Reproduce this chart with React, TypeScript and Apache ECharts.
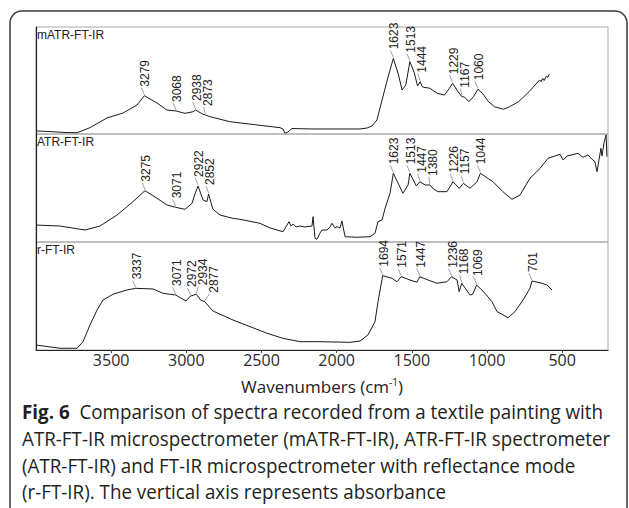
import React, { useEffect, useRef } from 'react';
import * as echarts from 'echarts';

// ---- data ----
const xTickLabels = [3500, 3000, 2500, 2000, 1500, 1000, 500];
const panelNames = ['mATR-FT-IR', 'ATR-FT-IR', 'r-FT-IR'];
const xAxisName = 'Wavenumbers (cm{sup|-1})';
const captionLines = [
  '{b|Fig. 6}  Comparison of spectra recorded from a textile painting with',
  'ATR-FT-IR microspectrometer (mATR-FT-IR), ATR-FT-IR spectrometer',
  '(ATR-FT-IR) and FT-IR microspectrometer with reflectance mode',
  '(r-FT-IR). The vertical axis represents absorbance',
];

// [wavenumber, absorbance (a.u.)]
const mATRSpectrum = [
  [3993, 0.028], [3907, 0.023], [3807, 0.014], [3727, 0.012], [3641, 0.059], [3528, 0.15], [3421, 0.196],
  [3328, 0.271], [3279, 0.358], [3195, 0.29], [3129, 0.224], [3068, 0.215], [3009, 0.193], [2956, 0.208],
  [2938, 0.224], [2889, 0.184], [2873, 0.178], [2843, 0.162], [2710, 0.115], [2490, 0.078], [2377, 0.059],
  [2357, 0.047], [2344, 0.007], [2324, 0.019], [2297, 0.051], [2157, 0.047], [1845, 0.047], [1798, 0.056],
  [1765, 0.075], [1732, 0.131], [1698, 0.318], [1658, 0.533], [1623, 0.707], [1590, 0.56], [1565, 0.411],
  [1540, 0.458], [1513, 0.676], [1485, 0.579], [1462, 0.45], [1444, 0.489], [1430, 0.44], [1380, 0.427],
  [1330, 0.38], [1283, 0.364], [1250, 0.427], [1229, 0.474], [1200, 0.411], [1167, 0.349], [1150, 0.346],
  [1120, 0.302], [1090, 0.349], [1060, 0.418], [1030, 0.38], [990, 0.302], [950, 0.255], [890, 0.231],
  [850, 0.255], [790, 0.302], [720, 0.395], [680, 0.458], [650, 0.505], [640, 0.49], [630, 0.52],
  [620, 0.5], [605, 0.54], [595, 0.53], [585, 0.56],
];
const atrSpectrum = [
  [4000, 0.157], [3840, 0.148], [3674, 0.111], [3574, 0.148], [3461, 0.25], [3355, 0.373], [3275, 0.475],
  [3195, 0.405], [3129, 0.343], [3071, 0.321], [3009, 0.303], [2962, 0.358], [2945, 0.435], [2922, 0.519],
  [2889, 0.389], [2863, 0.373], [2852, 0.444], [2823, 0.303], [2776, 0.25], [2690, 0.219], [2643, 0.21],
  [2510, 0.173], [2443, 0.13], [2357, 0.095], [2317, 0.188], [2304, 0.148], [2290, 0.167], [2270, 0.139],
  [2244, 0.148], [2211, 0.139], [2164, 0.148], [2157, 0.234], [2144, 0.034], [2131, 0.025], [2111, 0.083],
  [2098, 0.111], [2064, 0.111], [2044, 0.139], [2031, 0.173], [2011, 0.13], [1998, 0.142], [1978, 0.13],
  [1965, 0.194], [1944, 0.049], [1865, 0.044], [1778, 0.049], [1745, 0.081], [1725, 0.188], [1698, 0.204],
  [1678, 0.312], [1645, 0.451], [1623, 0.636], [1559, 0.451], [1525, 0.528], [1513, 0.636], [1470, 0.519],
  [1447, 0.558], [1410, 0.528], [1380, 0.528], [1355, 0.49], [1326, 0.466], [1266, 0.466], [1226, 0.558],
  [1185, 0.497], [1157, 0.543], [1113, 0.497], [1066, 0.558], [1044, 0.636], [960, 0.558], [894, 0.466],
  [834, 0.395], [780, 0.435], [714, 0.59], [647, 0.682], [594, 0.775], [514, 0.812], [494, 0.759],
  [468, 0.796], [395, 0.821], [361, 0.784], [328, 0.806], [301, 0.766], [282, 0.744], [268, 0.651],
  [255, 0.759], [242, 0.868], [235, 0.796], [222, 0.914], [208, 0.991], [202, 0.79],
];
const rSpectrum = [
  [4000, 0.046], [3840, 0.016], [3727, 0.016], [3687, 0.077], [3641, 0.231], [3594, 0.37], [3554, 0.463],
  [3488, 0.516], [3395, 0.556], [3337, 0.571], [3222, 0.565], [3155, 0.525], [3071, 0.509], [3002, 0.454],
  [2972, 0.5], [2934, 0.516], [2905, 0.463], [2877, 0.447], [2823, 0.361], [2690, 0.278], [2576, 0.216],
  [2463, 0.155], [2357, 0.108], [2244, 0.077], [2111, 0.077], [1911, 0.071], [1845, 0.083], [1792, 0.139],
  [1745, 0.262], [1725, 0.447], [1705, 0.602], [1694, 0.688], [1632, 0.664], [1599, 0.632], [1571, 0.679],
  [1512, 0.648], [1466, 0.627], [1447, 0.679], [1392, 0.648], [1333, 0.618], [1266, 0.632], [1236, 0.679],
  [1199, 0.648], [1185, 0.54], [1168, 0.618], [1113, 0.509], [1095, 0.516], [1069, 0.602], [1013, 0.525],
  [967, 0.447], [933, 0.355], [900, 0.331], [860, 0.299], [814, 0.355], [760, 0.463], [714, 0.571],
  [701, 0.639], [634, 0.618], [601, 0.602], [568, 0.556],
];

// labelled peaks [wavenumber, absorbance]
const mATRPeaks = [
  [3279, 0.358], [3068, 0.215], [2938, 0.224], [2873, 0.178], [1623, 0.707], [1513, 0.676], [1444, 0.489],
  [1229, 0.474], [1167, 0.349], [1060, 0.418],
];
const atrPeaks = [
  [3275, 0.475], [3071, 0.321], [2922, 0.519], [2852, 0.444], [1623, 0.636], [1513, 0.636], [1447, 0.558],
  [1380, 0.528], [1226, 0.558], [1157, 0.543], [1044, 0.636],
];
const rPeaks = [
  [3337, 0.571], [3071, 0.509], [2972, 0.5], [2934, 0.516], [2877, 0.447], [1694, 0.688], [1571, 0.679],
  [1447, 0.679], [1236, 0.679], [1168, 0.618], [1069, 0.602], [701, 0.639],
];

const spectra = [mATRSpectrum, atrSpectrum, rSpectrum];
const peaks = [mATRPeaks, atrPeaks, rPeaks];

const X_MIN = 195;
const X_MAX = 4000;
const GRID_TOPS = [27, 134, 242];
const GRID_HEIGHTS = [107, 108, 108];

function makePeakRenderer() {
  let lastX = -Infinity;
  return (params: any, api: any) => {
    if (params.dataIndexInside === 0) lastX = -Infinity;
    const wn = api.value(0);
    const a = api.value(1);
    const [px, py] = api.coord([wn, a]);
    const lx = Math.max(px, lastX + 11);
    lastX = lx;
    return {
      type: 'group',
      children: [
        {
          type: 'line',
          shape: { x1: px, y1: py - 1, x2: lx - 3, y2: py - 8 },
          style: { stroke: '#8a8a8a', lineWidth: 0.8 },
        },
        {
          type: 'text',
          x: lx + 1,
          y: py - 9,
          rotation: Math.PI / 2,
          style: {
            text: String(wn),
            fill: '#222',
            font: '12px "Liberation Sans", Arial, sans-serif',
            textAlign: 'left',
            textVerticalAlign: 'middle',
          },
        },
      ],
    };
  };
}

export default function App() {
  const ref = useRef<HTMLDivElement>(null);
  useEffect(() => {
    document.body.style.margin = '0';
    const chart = echarts.init(ref.current!, null, { renderer: 'svg' });
    const grids = GRID_TOPS.map((top, i) => ({
      left: 36,
      right: 21,
      top,
      height: GRID_HEIGHTS[i],
      show: true,
      borderColor: '#a8a8a8',
      borderWidth: 1,
      backgroundColor: 'transparent',
    }));
    const xAxes = GRID_TOPS.map((_, i) => {
      const bottom = i === 2;
      return {
        type: 'value',
        gridIndex: i,
        inverse: true,
        min: X_MIN,
        max: X_MAX,
        splitLine: { show: false },
        axisLine: { show: bottom, lineStyle: { color: '#222', width: 1.2 } },
        axisTick: bottom
          ? { show: true, customValues: xTickLabels, length: 3, lineStyle: { color: '#444' } }
          : { show: false },
        axisLabel: bottom
          ? {
              show: true,
              customValues: xTickLabels,
              formatter: (v: number) => String(v),
              color: '#2a2a2a',
              fontSize: 16,
              fontFamily: '"Open Sans", sans-serif',
              margin: 2,
            }
          : { show: false },
        name: bottom ? xAxisName : '',
        nameLocation: 'middle',
        nameGap: 27,
        nameTextStyle: {
          color: '#222',
          fontSize: 17,
          fontFamily: '"Open Sans", sans-serif',
          rich: {
            sup: { fontSize: 10, fontFamily: '"Open Sans", sans-serif', color: '#222', padding: [0, 0, 8, 0] },
          },
        },
      };
    });
    const yAxes = GRID_TOPS.map((_, i) => ({
      type: 'value',
      gridIndex: i,
      min: 0,
      max: 1,
      axisLine: { show: true, lineStyle: { color: '#222', width: 1.2 } },
      axisTick: { show: false },
      axisLabel: { show: false },
      splitLine: { show: false },
    }));
    const lineSeries = spectra.map((d, i) => ({
      type: 'line',
      xAxisIndex: i,
      yAxisIndex: i,
      data: d,
      showSymbol: false,
      symbol: 'none',
      lineStyle: { color: '#1a1a1a', width: 1 },
      silent: true,
    }));
    const peakSeries = peaks.map((d, i) => ({
      type: 'custom',
      xAxisIndex: i,
      yAxisIndex: i,
      data: d,
      renderItem: makePeakRenderer(),
      clip: false,
      silent: true,
    }));
    const panelLabels = panelNames.map((n, i) => ({
      type: 'text',
      x: 37,
      y: GRID_TOPS[i] + 2,
      style: {
        text: n,
        fill: '#222',
        font: '12px "Liberation Sans", Arial, sans-serif',
        textVerticalAlign: 'top',
      },
    }));
    const captionTops = [401, 428, 455, 481];
    const caption = captionLines.map((t, i) => ({
      type: 'text',
      x: 22,
      y: captionTops[i],
      scaleX: 0.94,
      style: {
        text: t,
        fill: '#231f20',
        font: '20px "Open Sans", sans-serif',
        textVerticalAlign: 'top',
        rich: {
          b: { fontWeight: 'bold', fontSize: 20, fontFamily: '"Open Sans", sans-serif', fill: '#231f20' },
        },
      },
    }));
    chart.setOption({
      animation: false,
      backgroundColor: '#fff',
      grid: grids,
      xAxis: xAxes,
      yAxis: yAxes,
      series: [...lineSeries, ...peakSeries],
      graphic: [
        {
          type: 'rect',
          shape: { x: 10, y: 11, width: 617, height: 520, r: 12 },
          style: { fill: 'none', stroke: '#3a3a3a', lineWidth: 1.5 },
          silent: true,
        },
        ...panelLabels,
        ...caption,
      ],
    });
    return () => chart.dispose();
  }, []);
  return <div ref={ref} style={{ width: 629, height: 508 }} />;
}
